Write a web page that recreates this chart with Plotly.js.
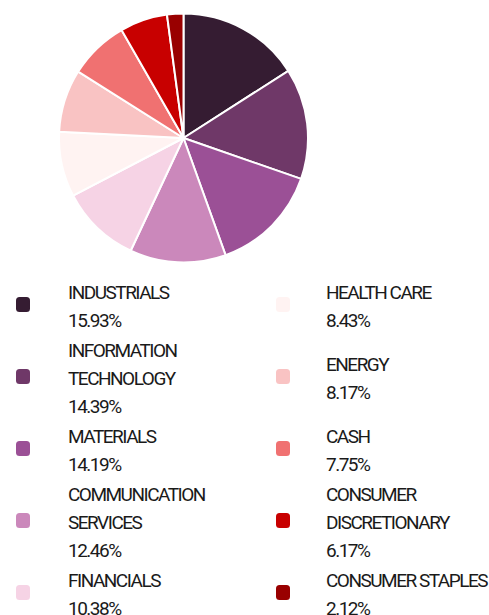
<!DOCTYPE html>
<html>
<head>
<meta charset="utf-8">
<script src="https://cdn.plot.ly/plotly-3.0.1.min.js"></script>
<style>html,body{margin:0;padding:0;background:#fff;}#chart{width:489px;height:615px;}</style>
</head>
<body>
<div id="chart"></div>
<script>
// ---- data ----
const categories = ['INDUSTRIALS', 'INFORMATION TECHNOLOGY', 'MATERIALS', 'COMMUNICATION SERVICES', 'FINANCIALS',
  'HEALTH CARE', 'ENERGY', 'CASH', 'CONSUMER DISCRETIONARY', 'CONSUMER STAPLES'];
const values = [15.93, 14.39, 14.19, 12.46, 10.38, 8.43, 8.17, 7.75, 6.17, 2.12];
const colors = ['#351c32', '#6f3868', '#9b5096', '#cb88bb', '#f6d3e5', '#fff3f2', '#f9c3c3', '#f07171', '#c80000', '#990000'];
const legendLabelLines = [['INDUSTRIALS'], ['INFORMATION', 'TECHNOLOGY'], ['MATERIALS'], ['COMMUNICATION', 'SERVICES'], ['FINANCIALS'],
  ['HEALTH CARE'], ['ENERGY'], ['CASH'], ['CONSUMER', 'DISCRETIONARY'], ['CONSUMER STAPLES']];

// ---- layout helpers ----
const W = 489, H = 615;
const px = x => x / W;
const py = y => 1 - y / H;
const FONT = 'Roboto, Noto Sans, sans-serif';
const lineH = 28, rowGap = 30, firstLine = 292;
const colText = [66, 324], colMark = [23, 283];
const nRows = 5;

const annotations = [], shapes = [];
let y0 = firstLine;
for (let r = 0; r < nRows; r++) {
  const items = [r, r + nRows];
  const lines = items.map(i => legendLabelLines[i].length + 1);
  const rowLines = Math.max(...lines);
  const rowCenter = y0 + (rowLines - 1) * lineH / 2;
  items.forEach((i, c) => {
    const txt = legendLabelLines[i].concat([values[i].toFixed(2) + '%']);
    const start = y0 + (rowLines - txt.length) * lineH / 2;
    txt.forEach((t, k) => {
      annotations.push({
        text: t, xref: 'paper', yref: 'paper', x: px(colText[c]), y: py(start + k * lineH),
        xanchor: 'left', yanchor: 'middle', align: 'left', showarrow: false,
        font: {family: FONT, size: 19, color: '#1a1a1a'}
      });
    });
    const cx = colMark[c], cy = rowCenter - 1.5, w = 14, h = 15, rr = 3.5;
    const x1 = cx - w / 2, x2 = cx + w / 2, yt = cy - h / 2, yb = cy + h / 2;
    const path = `M${px(x1 + rr)},${py(yt)} L${px(x2 - rr)},${py(yt)} Q${px(x2)},${py(yt)} ${px(x2)},${py(yt + rr)} ` +
      `L${px(x2)},${py(yb - rr)} Q${px(x2)},${py(yb)} ${px(x2 - rr)},${py(yb)} L${px(x1 + rr)},${py(yb)} ` +
      `Q${px(x1)},${py(yb)} ${px(x1)},${py(yb - rr)} L${px(x1)},${py(yt + rr)} Q${px(x1)},${py(yt)} ${px(x1 + rr)},${py(yt)} Z`;
    shapes.push({type: 'path', xref: 'paper', yref: 'paper', path: path, fillcolor: colors[i], line: {width: 0}});
  });
  y0 += (rowLines - 1) * lineH + rowGap;
}

const trace = {
  type: 'pie', labels: categories, values: values, sort: false, direction: 'clockwise', rotation: 0,
  marker: {colors: colors, line: {color: '#ffffff', width: 2}},
  textinfo: 'none', hoverinfo: 'label+percent',
  domain: {x: [px(59), px(308)], y: [py(262.5), py(13.5)]}
};

const layout = {
  width: W, height: H, margin: {l: 0, r: 0, t: 0, b: 0},
  paper_bgcolor: '#ffffff', plot_bgcolor: '#ffffff', showlegend: false,
  annotations: annotations, shapes: shapes
};
Plotly.newPlot('chart', [trace], layout, {displayModeBar: false, staticPlot: true}).then(gd => {
  gd.querySelectorAll('.annotation-text').forEach(t => { t.style.letterSpacing = '-1.5px'; });
});
</script>
</body>
</html>
